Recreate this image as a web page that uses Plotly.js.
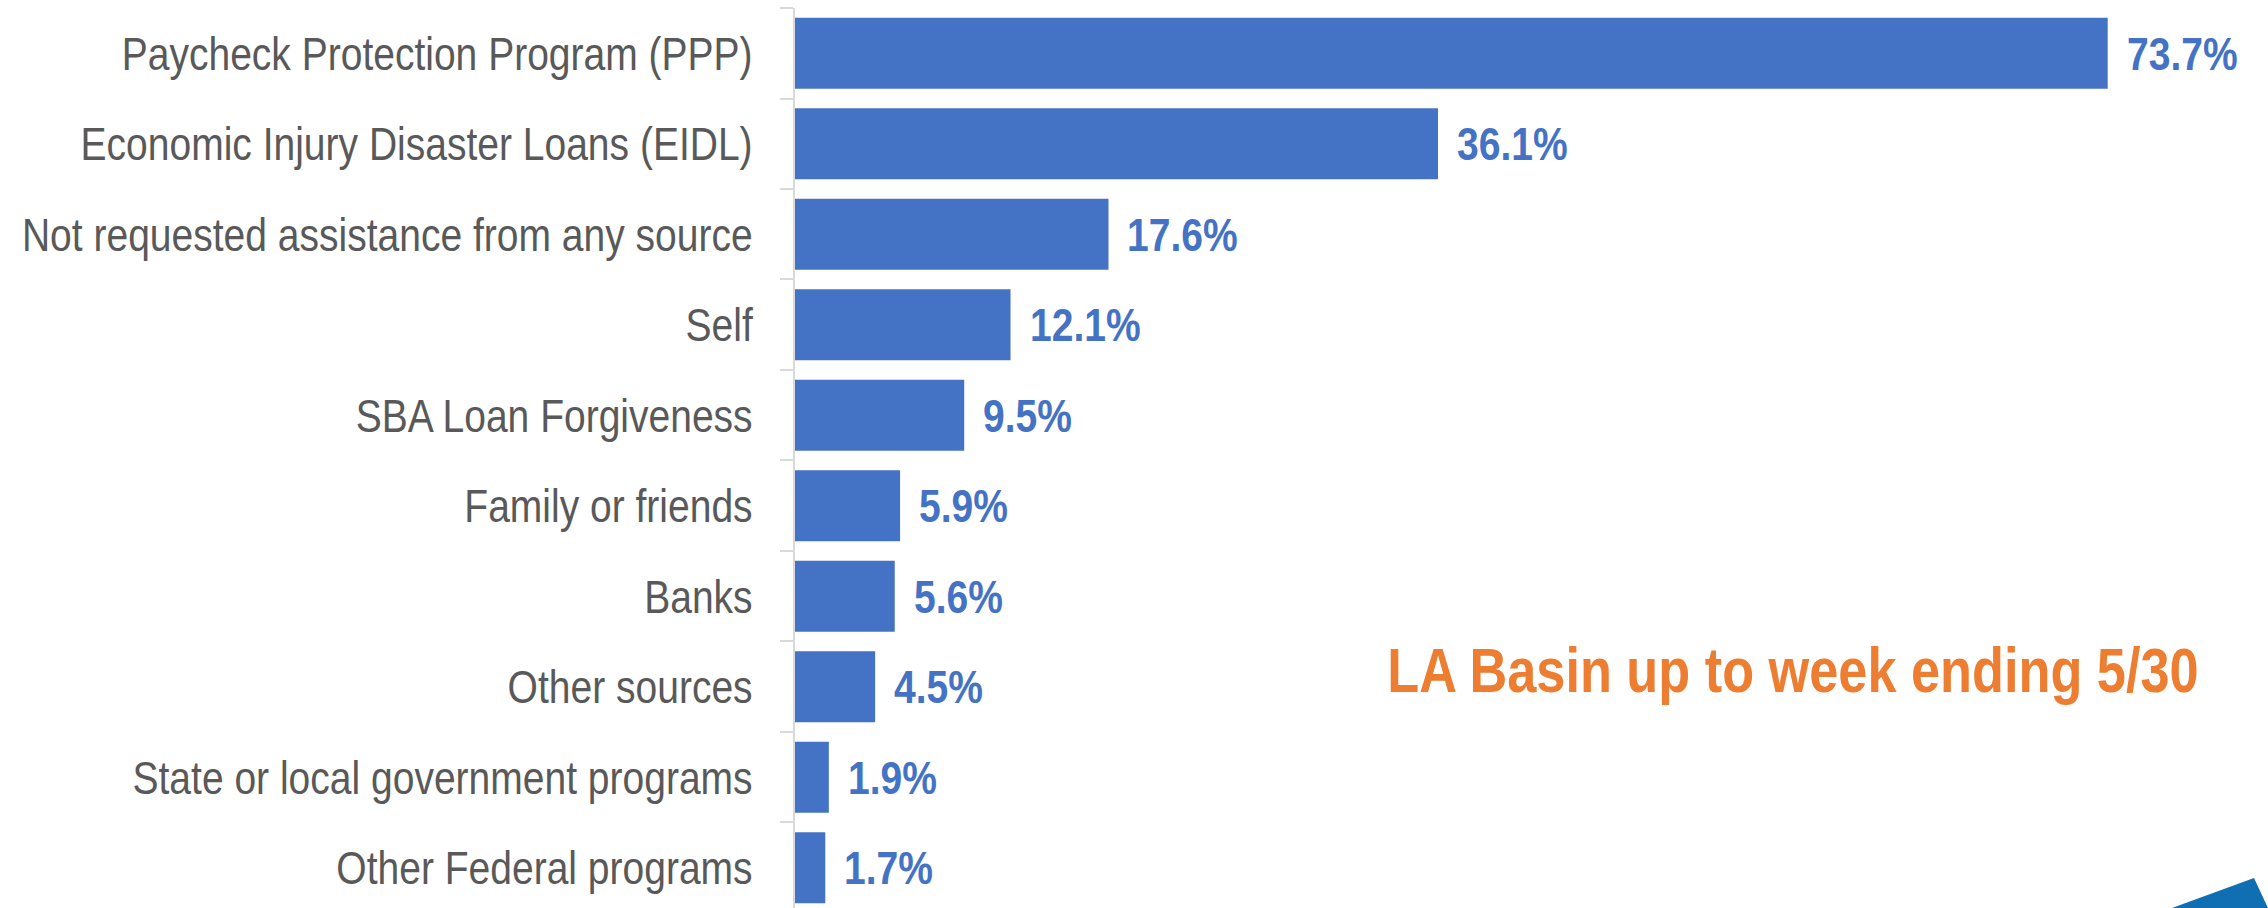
<!DOCTYPE html>
<html>
<head>
<meta charset="utf-8">
<script src="https://cdn.plot.ly/plotly-3.0.1.min.js"></script>
<style>
    html, body { margin: 0; padding: 0; background: #fff; }
    #chart { width: 2268px; height: 908px; }
</style>
</head>
<body>
<div id="chart"></div>
<script>
// sources of assistance, top to bottom
var categories = [
    'Paycheck Protection Program (PPP)',
    'Economic Injury Disaster Loans (EIDL)',
    'Not requested assistance from any source',
    'Self',
    'SBA Loan Forgiveness',
    'Family or friends',
    'Banks',
    'Other sources',
    'State or local government programs',
    'Other Federal programs'
]
var shares = [73.7, 36.1, 17.6, 12.1, 9.5, 5.9, 5.6, 4.5, 1.9, 1.7]

var noteText = 'LA Basin up to week ending 5/30'

var font = '"Liberation Sans", Arial, sans-serif'
var blue = '#4472C4'
var squeeze = 0.83   // no narrow font installed, squeeze text horizontally

var data = [{
    type: 'bar',
    orientation: 'h',
    x: shares,
    y: categories,
    marker: { color: blue },
    hoverinfo: 'none'
}]

// value labels next to each bar
var annotations = categories.map((c, i) => ({
    x: shares[i],
    y: c,
    xref: 'x',
    yref: 'y',
    text: shares[i].toFixed(1) + '%',
    showarrow: false,
    xanchor: 'left',
    yanchor: 'middle',
    xshift: 17,
    font: { family: font, size: 47, color: blue, weight: 'bold' }
}))

annotations.push({
    x: 0.6775,
    y: 0.2639,
    xref: 'paper',
    yref: 'paper',
    text: noteText,
    showarrow: false,
    xanchor: 'center',
    yanchor: 'middle',
    font: { family: font, size: 63, color: '#ED7D31', weight: 'bold' }
})

function squeezeText(el, pivot) {
    var b = el.getBBox()
    var px = pivot == 'left' ? b.x : pivot == 'right' ? b.x + b.width : b.x + b.width / 2
    var old = el.getAttribute('transform') || ''
    el.setAttribute('transform', old + ' translate(' + px + ',0) scale(' + squeeze + ',1) translate(' + (-px) + ',0)')
}

Plotly.newPlot('chart', data, {
    width: 2268,
    height: 908,
    margin: { l: 795, r: 0, t: 8, b: 0 },
    paper_bgcolor: '#fff',
    plot_bgcolor: '#fff',
    bargap: 0.215,
    showlegend: false,
    xaxis: {
        range: [0, 82.7],
        visible: false,
        fixedrange: true
    },
    yaxis: {
        type: 'category',
        range: [9.445, -0.5],
        showline: true,
        linecolor: '#D9D9D9',
        linewidth: 2,
        ticks: 'outside',
        tickson: 'boundaries',
        ticklen: 13,
        tickcolor: '#D9D9D9',
        tickwidth: 2,
        showgrid: false,
        ticklabelstandoff: 31,
        tickfont: { family: font, size: 47, color: '#595959' },
        fixedrange: true
    },
    annotations: annotations,
    shapes: [{
        // corner decoration
        type: 'path',
        xref: 'paper',
        yref: 'paper',
        path: 'M 0.9348 0 L 0.9905 0.0333 L 1.0 0 Z',
        fillcolor: '#106EB3',
        line: { width: 0 }
    }]
}, { staticPlot: true }).then(gd => {
    gd.querySelectorAll('.ytick text').forEach(t => squeezeText(t, 'right'))
    var notes = gd.querySelectorAll('.annotation-text')
    notes.forEach((t, i) => squeezeText(t, i < categories.length ? 'left' : 'middle'))
});
</script>
</body>
</html>
